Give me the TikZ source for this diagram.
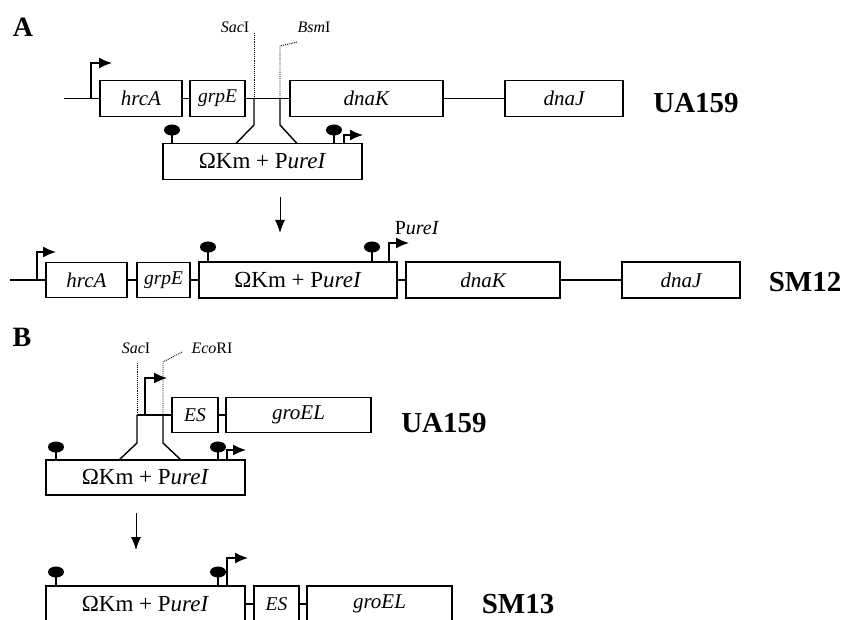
\documentclass[tikz,border=0pt]{standalone}
\usepackage{fontspec}
\setmainfont{Liberation Serif}
\usepackage{tikz}
\usetikzlibrary{positioning, calc, arrows.meta}

\tikzset{
    gene/.style={draw, line width=1.1pt, inner sep=0pt, minimum height=36pt,
        font=\fontsize{21}{21}\selectfont\itshape},
    small gene/.style={gene, font=\fontsize{19.5}{19.5}\selectfont\itshape},
    cass/.style={draw, line width=1.1pt, inner sep=0pt, minimum height=36pt,
        minimum width=199pt, font=\fontsize{23}{23}\selectfont},
    strain/.style={font=\fontsize{29}{29}\selectfont\bfseries},
    panel/.style={font=\fontsize{28}{28}\selectfont\bfseries},
    site/.style={font=\fontsize{16}{16}\selectfont},
    dna/.style={line width=1.4pt},
    cut/.style={densely dotted, line width=0.9pt},
    prom/.style={->, line width=1.4pt, >={Latex[length=13pt,width=11pt]}},
    step down/.style={->, line width=1pt, >={Latex[length=13pt,width=10pt]}},
}

\begin{document}
\begin{tikzpicture}[x=1pt, y=-1pt]
            \useasboundingbox (0,0) rectangle (844,620);
            \clip (0,0) rectangle (844,620);

            \node[panel] (A) at (23,27) {A};

            \coordinate (L1) at (64,98.5);
            \node[gene, minimum width=82pt] (hrcA1) at (141,98.5) {hrcA};
            \node[small gene, minimum width=55pt] (grpE1) at (217.5,98.5) {grpE};
            \node[gene, minimum width=153pt] (dnaK1) at (366.5,98.5) {dnaK};
            \node[gene, minimum width=118pt] (dnaJ1) at (564,98.5) {dnaJ};
            \node[strain] (UA1) at (696,103) {UA159};
            \draw[dna] (L1) -- (hrcA1);
            \draw[dna] (hrcA1) -- (grpE1);
            \draw[dna] (grpE1) -- (dnaK1);
            \draw[dna] (dnaK1) -- (dnaJ1);
            \draw[prom] (91,98.5) |- (112,63);

            \coordinate (Sac1) at (254,98.5);
            \coordinate (Bsm1) at (280,98.5);
            \node[site] (SacA) at (235,27) {\textit{Sac}I};
            \node[site] (BsmA) at (314,27) {\textit{Bsm}I};
            \draw[cut] (254,33) -- (Sac1);
            \draw[cut] (297,42) -- (280,46) -- (Bsm1);

            \node[cass] (Om1) at (262.5,161.5) {ΩKm + P\textit{ureI}};
            \draw[dna] (Sac1) -- (254,125) -- (236,143.5);
            \draw[dna] (Bsm1) -- (280,125) -- (297,143.5);
            \draw[dna] (172,143.5) -- (172,135);
            \fill (172,130) ellipse (8pt and 5.5pt);
            \draw[dna] (334,143.5) -- (334,135);
            \fill (334,130) ellipse (8pt and 5.5pt);
            \draw[prom] (344,143.5) |- (363,135);

            \coordinate (D1) at (280,197);
            \coordinate (D2) at (280,233);
            \draw[step down] (D1) -- (D2);

            \coordinate (L2) at (10,280);
            \node[gene, minimum width=81pt, minimum height=35pt] (hrcA2) at (86.5,280) {hrcA};
            \node[small gene, minimum width=53pt, minimum height=35pt] (grpE2) at (163.5,280) {grpE};
            \node[cass, minimum width=198pt] (Om2) at (298,280) {ΩKm + P\textit{ureI}};
            \node[gene, minimum width=154pt] (dnaK2) at (483,280) {dnaK};
            \node[gene, minimum width=118pt] (dnaJ2) at (681,280) {dnaJ};
            \node[strain] (SM12) at (805,282) {SM12};
            \draw[dna] (L2) -- (hrcA2);
            \draw[dna] (hrcA2) -- (grpE2);
            \draw[dna] (grpE2) -- (Om2);
            \draw[dna] (Om2) -- (dnaK2);
            \draw[dna] (dnaK2) -- (dnaJ2);
            \draw[prom] (37,280) |- (56,252);
            \draw[dna] (208,262) -- (208,252);
            \fill (208,247) ellipse (8pt and 5.5pt);
            \draw[dna] (372,262) -- (372,252);
            \fill (372,247) ellipse (8pt and 5.5pt);
            \draw[prom] (389,262) |- (409,243);
            \node[font=\fontsize{20}{20}\selectfont] (PureA) at (417,228) {P\textit{ureI}};

            \node[panel] (B) at (22,337) {B};

            \coordinate (Sac2) at (137,415);
            \coordinate (Eco2) at (163,415);
            \node[site] (SacB) at (136,348) {\textit{Sac}I};
            \node[site] (EcoB) at (212,348) {\textit{Eco}RI};
            \draw[cut] (137,363) -- (Sac2);
            \draw[cut] (182,352) -- (163,362) -- (Eco2);
            \draw[prom] (145,415) |- (167,378);

            \node[small gene, minimum width=46pt, minimum height=35pt] (ES1) at (195,415) {ES};
            \node[gene, minimum width=145pt, minimum height=35pt] (groEL1) at (298.5,415) {groEL};
            \node[strain] (UA2) at (444,423) {UA159};
            \draw[dna] (Sac2) -- (ES1);
            \draw[dna] (ES1) -- (groEL1);

            \node[cass, minimum height=35pt] (Om3) at (145.5,477.5) {ΩKm + P\textit{ureI}};
            \draw[dna] (Sac2) -- (137,443) -- (119,460);
            \draw[dna] (Eco2) -- (163,443) -- (181,460);
            \draw[dna] (56,460) -- (56,452);
            \fill (56,447) ellipse (8pt and 5.5pt);
            \draw[dna] (218,460) -- (218,452);
            \fill (218,447) ellipse (8pt and 5.5pt);
            \draw[prom] (227,460) |- (246,450);

            \coordinate (D3) at (136,513);
            \coordinate (D4) at (136,550);
            \draw[step down] (D3) -- (D4);

            \node[cass] (Om4) at (145.5,604) {ΩKm + P\textit{ureI}};
            \node[small gene, minimum width=45pt] (ES2) at (276.5,604) {ES};
            \node[gene, minimum width=145pt] (groEL2) at (379.5,604) {groEL};
            \node[strain] (SM13) at (518,604) {SM13};
            \draw[dna] (Om4) -- (ES2);
            \draw[dna] (ES2) -- (groEL2);
            \draw[dna] (56,586) -- (56,577);
            \fill (56,572) ellipse (8pt and 5.5pt);
            \draw[dna] (218,586) -- (218,577);
            \fill (218,572) ellipse (8pt and 5.5pt);
            \draw[prom] (227,586) |- (248,558);
        \end{tikzpicture}
\end{document}
